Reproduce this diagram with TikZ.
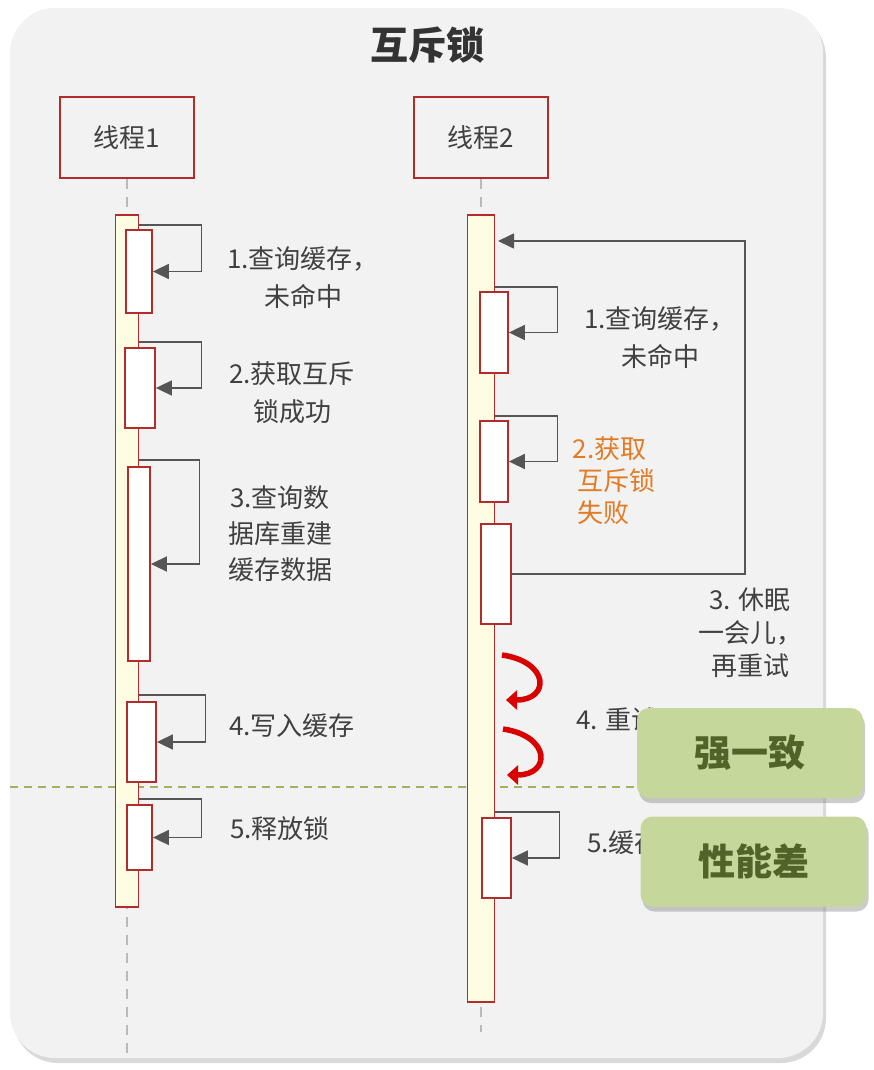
\documentclass[tikz,border=0pt]{standalone}
\usepackage{fontspec}
\setmainfont{Noto Sans CJK SC}
\usepackage{tikz}
\usetikzlibrary{positioning,arrows.meta,shadows}
\definecolor{panelgray}{RGB}{242,242,242}
\definecolor{boxred}{RGB}{178,44,44}
\definecolor{barfill}{RGB}{255,252,228}
\definecolor{txtgray}{RGB}{64,64,64}
\definecolor{loopgray}{RGB}{85,85,85}
\definecolor{failorange}{RGB}{228,122,35}
\definecolor{tagfill}{RGB}{197,215,155}
\definecolor{tagtext}{RGB}{80,99,40}
\definecolor{sepgreen}{RGB}{160,178,95}

\begin{document}
\begin{tikzpicture}[x=1pt, y=-1pt, node distance=35pt,
  panel/.style={fill=panelgray, rounded corners=45pt, inner sep=0pt,
    drop shadow={shadow xshift=3pt, shadow yshift=-5pt, opacity=.3, fill=gray}},
  hdr/.style={draw=boxred, line width=1.8pt, minimum width=134pt, minimum height=81pt,
    inner sep=0pt, text=txtgray, font=\fontsize{26}{30}\selectfont},
  lifebar/.style={draw=boxred, line width=1.8pt, fill=barfill, inner sep=0pt},
  act/.style={draw=boxred, line width=1.8pt, fill=white, inner sep=0pt},
  life/.style={gray!55, line width=1.2pt, dash pattern=on 10pt off 8pt},
  selfmsg/.style={draw=loopgray, line width=1.7pt, -{Triangle[length=16pt,width=15pt]}},
  lbl/.style={align=center, text=txtgray, font=\fontsize{26}{38}\selectfont, inner sep=0pt},
  spin/.style={red!85!black, line width=5.5pt, -{Triangle[length=11pt,width=19pt]}},
  tag/.style={fill=tagfill, rounded corners=12pt, minimum width=226pt, minimum height=90pt,
    text=tagtext, font=\bfseries\fontsize{37}{42}\selectfont,
    drop shadow={shadow xshift=2pt, shadow yshift=-5pt, opacity=.4, fill=gray}}]
\useasboundingbox (0,0) rectangle (873,1070);
\node[panel, minimum width=813pt, minimum height=1050pt] (panel) at (416.5,533) {};
\node[text=txtgray!80!black, font=\bfseries\fontsize{38}{42}\selectfont] (title) at (427,45) {互斥锁};

\node[hdr] (hdr1) at (127,137.5) {线程1};
\node[hdr] (hdr2) at (481,137.5) {线程2};
\coordinate (end1) at (127,1058);
\coordinate (end2) at (481,1032);
\draw[life] (hdr1.south) -- (end1);
\draw[life] (hdr2.south) -- (end2);

\coordinate (sepL) at (10,787);
\coordinate (sepR) at (823,787);
\draw[sepgreen, line width=1.3pt, dash pattern=on 8pt off 6pt] (sepL) -- (sepR);

\node[lifebar, minimum width=23pt, minimum height=692pt, below=35pt of hdr1] (bar1) {};
\node[lifebar, minimum width=27pt, minimum height=787pt, below=35pt of hdr2] (bar2) {};

\node[act, minimum width=26pt, minimum height=83pt] (a1) at (139,271.5) {};
\node[act, minimum width=30pt, minimum height=80pt] (a2) at (140,388) {};
\node[act, minimum width=22pt, minimum height=194pt] (a3) at (139,564) {};
\node[act, minimum width=29pt, minimum height=80pt] (a4) at (141.5,742) {};
\node[act, minimum width=25pt, minimum height=65pt] (a5) at (139.5,837.5) {};

\node[act, minimum width=28pt, minimum height=81pt] (b1) at (494,332.5) {};
\node[act, minimum width=28pt, minimum height=81pt] (b2) at (494,461.5) {};
\node[act, minimum width=30pt, minimum height=100pt] (b3) at (496,574) {};
\node[act, minimum width=29pt, minimum height=80pt] (b5) at (496.5,858) {};

\draw[selfmsg] ([yshift=4pt]bar1.east |- a1.north) -- ++(62,0) |- (a1.east);
\draw[selfmsg] ([yshift=5pt]bar1.east |- a2.north) -- ++(62,0) |- (a2.east);
\draw[selfmsg] ([yshift=6pt]bar1.east |- a3.north) -- ++(60,0) |- (a3.east);
\draw[selfmsg] ([yshift=6pt]bar1.east |- a4.north) -- ++(66,0) |- (a4.east);
\draw[selfmsg] ([yshift=5pt]bar1.east |- a5.north) -- ++(62,0) |- (a5.east);

\draw[selfmsg] ([yshift=4pt]bar2.east |- b1.north) -- ++(62,0) |- (b1.east);
\draw[selfmsg] ([yshift=4pt]bar2.east |- b2.north) -- ++(62,0) |- (b2.east);
\coordinate (turn) at (745,241);
\coordinate (wake) at (498,241);
\draw[selfmsg] (b3.east) -| (turn) -- (wake);
\draw[selfmsg] ([yshift=5pt]bar2.east |- b5.north) -- ++(64,0) |- (b5.east);

\node[lbl] (t1) at (303,278) {1.查询缓存，\\未命中};
\node[lbl] (t2) at (292,393) {2.获取互斥\\锁成功};
\node[lbl, font=\fontsize{26}{36}\selectfont] (t3) at (280,534) {3.查询数\\据库重建\\缓存数据};
\node[lbl] (t4) at (292,726) {4.写入缓存};
\node[lbl] (t5) at (280,829) {5.释放锁};

\node[lbl] (u1) at (660,338) {1.查询缓存，\\未命中};
\node[lbl, align=left, text=failorange, font=\fontsize{26}{32}\selectfont] (u2) at (614,481) {2.获取\\\,互斥锁\\\,失败};
\node[lbl, font=\fontsize{26}{33}\selectfont] (u3) at (750,633) {3. 休眠\\一会儿，\\再重试};

\coordinate (r1a) at (502,655);
\coordinate (r1b) at (506,700);
\coordinate (r2a) at (503,729);
\coordinate (r2b) at (507,775);
\draw[spin] (r1a) .. controls (550,662) and (550,700) .. (r1b);
\draw[spin] (r2a) .. controls (551,736) and (551,775) .. (r2b);

\node[lbl, anchor=west] (u4) at (576,720) {4. 重试};
\node[lbl, anchor=west] (u5) at (587,843) {5.缓存};

\node[tag] (strong) at (750,753) {强一致};
\node[tag] (slow) at (753.5,861.5) {性能差};
\end{tikzpicture}
\end{document}
